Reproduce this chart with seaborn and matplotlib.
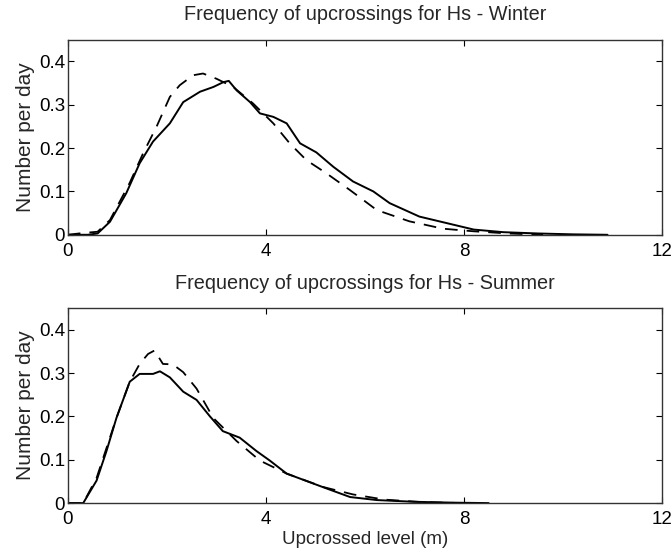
import matplotlib
matplotlib.use("Agg")
import matplotlib.pyplot as plt
import seaborn as sns
import pandas as pd

# Winter: observed (solid) and model (dashed) upcrossing frequencies
winter_obs_x = [0.0, 0.4, 0.6, 0.85, 1.18, 1.45, 1.72, 2.06, 2.33, 2.67, 2.94, 3.14, 3.25,
                3.41, 3.68, 3.88, 4.15, 4.42, 4.69, 5.02, 5.36, 5.76, 6.17, 6.5, 7.1, 7.65,
                8.2, 8.8, 9.5, 10.2, 10.9]
winter_obs_y = [0.0, 0.0, 0.003, 0.03, 0.096, 0.165, 0.215, 0.257, 0.306, 0.33, 0.341, 0.352,
                0.355, 0.333, 0.306, 0.28, 0.272, 0.257, 0.211, 0.19, 0.157, 0.123, 0.1, 0.073,
                0.042, 0.027, 0.012, 0.006, 0.003, 0.001, 0.0]
winter_mod_x = [0.0, 0.3, 0.6, 0.85, 1.25, 1.52, 1.79, 2.06, 2.26, 2.53, 2.73, 3.0, 3.34,
                3.74, 4.15, 4.48, 4.82, 5.22, 5.7, 6.24, 6.9, 7.58, 8.2, 8.9, 9.6]
winter_mod_y = [0.0, 0.004, 0.007, 0.034, 0.12, 0.188, 0.249, 0.318, 0.345, 0.368, 0.372,
                0.36, 0.341, 0.303, 0.257, 0.211, 0.172, 0.142, 0.103, 0.057, 0.031, 0.014,
                0.008, 0.003, 0.0]

# Summer: observed (solid) and model (dashed) upcrossing frequencies
summer_obs_x = [0.0, 0.31, 0.58, 0.78, 0.98, 1.25, 1.45, 1.72, 1.86, 2.06, 2.33, 2.6, 2.87,
                3.13, 3.47, 3.81, 4.08, 4.42, 4.89, 5.22, 5.7, 6.24, 7.0, 7.8, 8.5]
summer_obs_y = [0.0, 0.0, 0.052, 0.12, 0.196, 0.28, 0.298, 0.298, 0.304, 0.29, 0.257, 0.238,
                0.2, 0.166, 0.151, 0.12, 0.098, 0.068, 0.048, 0.034, 0.014, 0.007, 0.003,
                0.001, 0.0]
summer_mod_x = [0.0, 0.31, 0.58, 0.78, 0.98, 1.25, 1.45, 1.62, 1.75, 1.92, 2.12, 2.33, 2.6,
                2.94, 3.41, 3.88, 4.42, 5.16, 5.76, 6.4, 7.2, 8.0]
summer_mod_y = [0.0, 0.0, 0.058, 0.127, 0.196, 0.28, 0.321, 0.344, 0.352, 0.321, 0.32, 0.302,
                0.264, 0.196, 0.143, 0.098, 0.068, 0.037, 0.02, 0.008, 0.002, 0.0]

x_ticks = [0, 4, 8, 12]
y_ticks = [0, 0.1, 0.2, 0.3, 0.4]
y_ticklabels = ["0", "0.1", "0.2", "0.3", "0.4"]

sns.set_style("ticks")
plt.rcParams["font.family"] = ["Liberation Sans", "DejaVu Sans"]

fig = plt.figure(figsize=(6.72, 5.59), dpi=100)
ax_top = fig.add_axes([0.101, 0.580, 0.884, 0.349])
ax_bot = fig.add_axes([0.101, 0.100, 0.884, 0.349])

panels = [
    (ax_top, "Frequency of upcrossings for Hs - Winter",
     winter_obs_x, winter_obs_y, winter_mod_x, winter_mod_y),
    (ax_bot, "Frequency of upcrossings for Hs - Summer",
     summer_obs_x, summer_obs_y, summer_mod_x, summer_mod_y),
]

for ax, title, ox, oy, mx, my in panels:
    obs = pd.DataFrame({"x": ox, "y": oy})
    mod = pd.DataFrame({"x": mx, "y": my})
    sns.lineplot(data=obs, x="x", y="y", ax=ax, color="black", lw=1.4, sort=False)
    sns.lineplot(data=mod, x="x", y="y", ax=ax, color="black", lw=1.3, sort=False,
                 dashes=False, linestyle=(0, (7, 5)))
    ax.set_xlim(0, 12)
    ax.set_ylim(0, 0.45)
    ax.set_xticks(x_ticks)
    ax.set_xticklabels([str(t) for t in x_ticks])
    ax.set_yticks(y_ticks)
    ax.set_yticklabels(y_ticklabels)
    ax.tick_params(direction="in", top=True, right=True, length=4, width=0.8,
                   labelsize=13.5, colors="black")
    ax.tick_params(axis="x", pad=6)
    ax.tick_params(axis="y", pad=2)
    for s in ax.spines.values():
        s.set_visible(True)
        s.set_linewidth(1.0)
        s.set_color("#333333")
    ax.set_title(title, fontsize=14.3, pad=14)
    ax.set_ylabel("Number per day", fontsize=15, labelpad=3)
    ax.set_xlabel("")

ax_bot.set_xlabel("Upcrossed level (m)", fontsize=13.5, labelpad=2)

fig.savefig("out.png", dpi=100)
